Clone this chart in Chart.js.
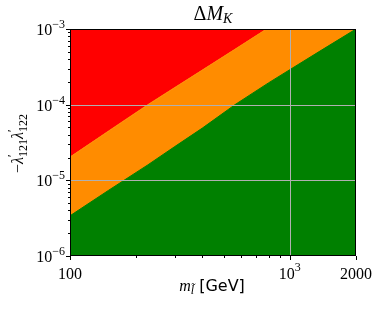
<!DOCTYPE html>
<html>
<head>
<meta charset="utf-8">
<script src="https://cdn.jsdelivr.net/npm/chart.js@4/dist/chart.umd.min.js"></script>
<style>
  html, body { margin: 0; padding: 0; background: #fff; }
  #wrap { width: 380px; height: 311px; }
</style>
</head>
<body>
<div id="wrap"><canvas id="chart"></canvas></div>
<script>
// slepton mass (GeV) and the two contour boundaries
const massGeV = [100, 150, 226, 300, 400, 563, 800, 1000, 1400, 2000];
const lowerBound = [3.4e-6, 7.4e-6, 1.6e-5, 2.8e-5, 4.9e-5, 1.0e-4, 1.94e-4, 2.9e-4, 5.3e-4, 1.0e-3];
const upperBound = [2.03e-5, 4.5e-5, 1.0e-4, 1.69e-4, 2.87e-4, 5.4e-4, 1.04e-3, 1.57e-3, 2.9e-3, 5.6e-3];

const xTickValues = [100, 1000, 2000];
const xTickBase = ['100', '10', '2000'];
const xTickExp = ['', '3', ''];
const yTickValues = [1e-6, 1e-5, 1e-4, 1e-3];
const yTickExp = ['\u22126', '\u22125', '\u22124', '\u22123'];
const xGridValues = [1000];
const yGridValues = [1e-5, 1e-4];

const serif = '"Liberation Serif", "DejaVu Serif", serif';

function drawRuns(ctx, runs, x, y, align) {
    let total = 0;
    runs.forEach(r => {
        ctx.font = r.f;
        r.w = ctx.measureText(r.t).width;
        if (r.adv !== false) total += r.w;
    });
    let cx = x;
    if (align === 'center') cx = x - total / 2;
    if (align === 'right') cx = x - total;
    ctx.textAlign = 'left';
    ctx.textBaseline = 'alphabetic';
    runs.forEach(r => {
        ctx.font = r.f;
        ctx.fillText(r.t, cx, y + (r.dy || 0));
        if (r.adv !== false) cx += r.w;
    });
}

const decorations = {
    id: 'decorations',
    afterDraw(chart) {
        const { ctx, chartArea: a, scales } = chart;
        const xs = scales.x, ys = scales.y;
        ctx.save();

        // grid on top of the filled regions
        ctx.strokeStyle = '#b0b0b0';
        ctx.lineWidth = 1;
        xGridValues.forEach(v => {
            const px = Math.round(xs.getPixelForValue(v)) + 0.5;
            ctx.beginPath();
            ctx.moveTo(px, a.top);
            ctx.lineTo(px, a.bottom);
            ctx.stroke();
        });
        yGridValues.forEach(v => {
            const py = Math.round(ys.getPixelForValue(v)) + 0.5;
            ctx.beginPath();
            ctx.moveTo(a.left, py);
            ctx.lineTo(a.right, py);
            ctx.stroke();
        });

        ctx.fillStyle = '#000';
        ctx.strokeStyle = '#000';

        // frame
        ctx.strokeRect(Math.round(a.left) + 0.5, Math.round(a.top) + 0.5,
            Math.round(a.right - a.left) - 1, Math.round(a.bottom - a.top) - 1);

        // x ticks
        const xb = Math.round(a.bottom);
        for (let d = 100; d <= 1000; d *= 10) {
            for (let k = 1; k <= 9; k++) {
                const v = d * k;
                if (v > 2000) continue;
                const px = Math.round(xs.getPixelForValue(v)) + 0.5;
                const major = xTickValues.includes(v);
                ctx.beginPath();
                ctx.moveTo(px, xb);
                ctx.lineTo(px, xb + (major ? 4 : 2));
                ctx.stroke();
            }
        }
        // y ticks
        const yl = Math.round(a.left);
        for (let e = -6; e <= -4; e++) {
            for (let k = 1; k <= 10; k++) {
                const v = k * Math.pow(10, e);
                const py = Math.round(ys.getPixelForValue(v)) + 0.5;
                const major = k === 1 || k === 10;
                ctx.beginPath();
                ctx.moveTo(yl, py);
                ctx.lineTo(yl - (major ? 4 : 2), py);
                ctx.stroke();
            }
        }

        // x tick labels
        xTickValues.forEach((v, i) => {
            const px = xs.getPixelForValue(v);
            const runs = [{ t: xTickBase[i], f: '16px ' + serif }];
            if (xTickExp[i]) runs.push({ t: xTickExp[i], f: '12px ' + serif, dy: -8 });
            drawRuns(ctx, runs, px, a.bottom + 23, 'center');
        });
        // y tick labels
        yTickValues.forEach((v, i) => {
            const py = ys.getPixelForValue(v);
            drawRuns(ctx, [
                { t: '10', f: '16px ' + serif },
                { t: yTickExp[i], f: '12px ' + serif, dy: -7 }
            ], a.left - 5, py + 6, 'right');
        });

        // title
        drawRuns(ctx, [
            { t: '\u0394', f: '20px ' + serif },
            { t: 'M', f: 'italic 20px ' + serif },
            { t: 'K', f: 'italic 14px ' + serif, dy: 3 }
        ], (a.left + a.right) / 2, 20, 'center');

        // x axis label
        drawRuns(ctx, [
            { t: 'm', f: 'italic 16px ' + serif },
            { t: 'l\u0303', f: 'italic 12px ' + serif, dy: 3 },
            { t: ' [GeV]', f: '16px "DejaVu Sans", sans-serif' }
        ], 212, 291, 'center');

        // y axis label
        ctx.translate(23, (a.top + a.bottom) / 2 + 1);
        ctx.rotate(-Math.PI / 2);
        drawRuns(ctx, [
            { t: '\u2212', f: '16px ' + serif },
            { t: '\u03bb', f: 'italic 16px ' + serif },
            { t: '\u2032', f: '12px ' + serif, dy: -7, adv: false },
            { t: '121', f: '12px ' + serif, dy: 4 },
            { t: '\u03bb', f: 'italic 16px ' + serif },
            { t: '\u2032', f: '12px ' + serif, dy: -7, adv: false },
            { t: '122', f: '12px ' + serif, dy: 4 }
        ], 0, 0, 'center');
        ctx.restore();
    }
};

const points = vals => massGeV.map((m, i) => ({ x: m, y: vals[i] }));

new Chart(document.getElementById('chart'), {
    type: 'line',
    data: {
        datasets: [
            {
                label: 'allowed',
                data: points(lowerBound),
                fill: 'start',
                backgroundColor: '#008000',
                borderColor: '#008000',
                borderWidth: 1,
                pointRadius: 0
            },
            {
                label: 'intermediate',
                data: points(upperBound),
                fill: 'start',
                backgroundColor: '#ff8c00',
                borderColor: '#ff8c00',
                borderWidth: 1,
                pointRadius: 0
            },
            {
                label: 'excluded',
                data: points(upperBound),
                fill: 'end',
                backgroundColor: '#ff0000',
                borderColor: '#ff0000',
                borderWidth: 0,
                pointRadius: 0
            }
        ]
    },
    options: {
        responsive: true,
        maintainAspectRatio: false,
        animation: false,
        layout: { padding: { left: 70, right: 24, top: 29, bottom: 55 } },
        plugins: { legend: { display: false }, tooltip: { enabled: false } },
        scales: {
            x: { type: 'logarithmic', min: 100, max: 2000, display: false },
            y: { type: 'logarithmic', min: 1e-6, max: 1e-3, display: false }
        }
    },
    plugins: [decorations]
});
</script>
</body>
</html>
